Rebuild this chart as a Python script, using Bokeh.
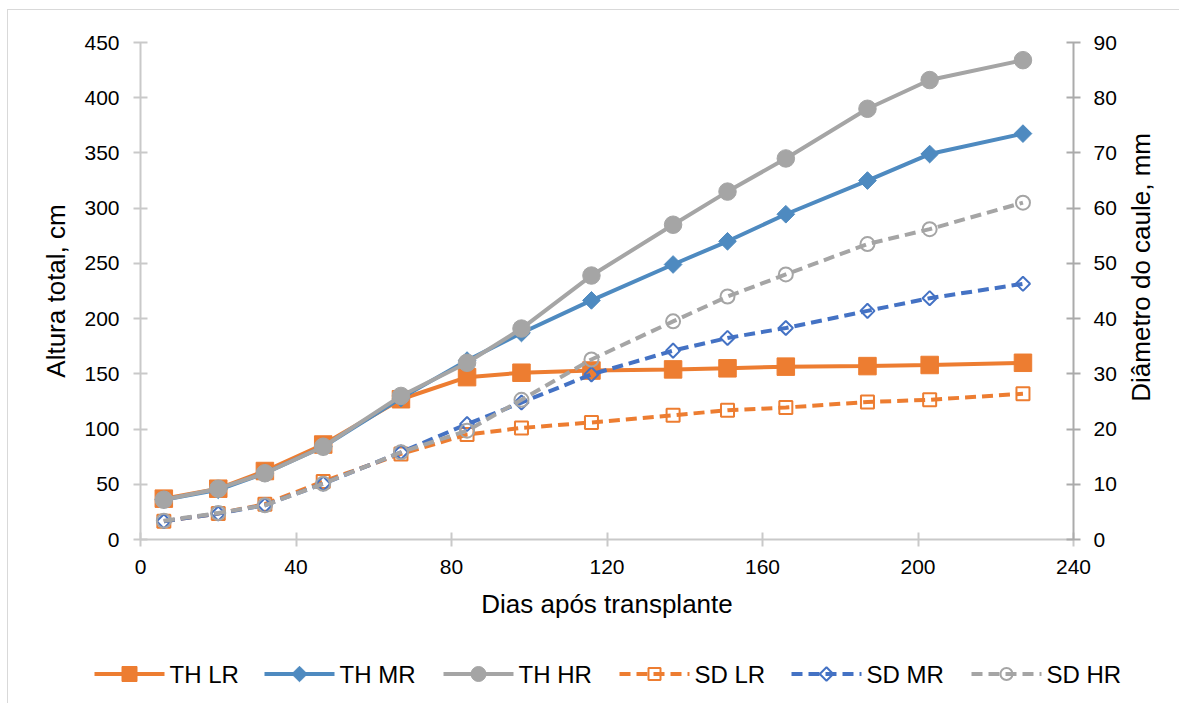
import math

from bokeh.core.properties import value
from bokeh.embed import file_html
from bokeh.layouts import column, row
from bokeh.models import FixedTicker, LinearAxis, Range1d
from bokeh.plotting import figure
from bokeh.resources import INLINE

# Days after transplanting
days = [6, 20, 32, 47, 67, 84, 98, 116, 137, 151, 166, 187, 203, 227]

# Total height (cm), left axis
th_lr = [37, 46, 62, 86, 127, 147, 151, 153, 154, 155, 156.5, 157, 158, 160]
th_mr = [36, 45, 60, 84, 128, 162, 187, 216.5, 249, 270, 294.5, 325, 349, 367.5]
th_hr = [36, 46, 60, 84, 130, 160, 191, 239, 285, 315, 345, 390, 416, 434]

# Stem diameter (mm), right axis
sd_lr = [3.3, 4.7, 6.4, 10.5, 15.5, 19.0, 20.2, 21.2, 22.5, 23.4, 23.9, 24.9, 25.3, 26.4]
sd_mr = [3.3, 4.7, 6.2, 10.1, 15.8, 20.9, 24.8, 29.9, 34.2, 36.5, 38.3, 41.4, 43.7, 46.3]
sd_hr = [3.4, 4.8, 6.2, 10.1, 15.8, 19.7, 25.3, 32.6, 39.5, 44.0, 48.0, 53.5, 56.2, 61.0]

x_ticks = [0, 40, 80, 120, 160, 200, 240]
left_ticks = [0, 50, 100, 150, 200, 250, 300, 350, 400, 450]
right_ticks = [0, 10, 20, 30, 40, 50, 60, 70, 80, 90]

FONT = "Liberation Sans"
ORANGE = "#ED7D31"
STEEL = "#4E8AC0"
BLUE = "#4472C4"
GRAY = "#A5A5A5"

LW = 4
DASH = "11 6"

# label, values, color, dashed, marker, angle, size, legend size, filled, y range
series = [
    ("TH LR", th_lr, ORANGE, False, "square", 0.0, 17.5, 15, True, "default"),
    ("TH MR", th_mr, STEEL, False, "square", math.pi / 4, 12.5, 11, True, "default"),
    ("TH HR", th_hr, GRAY, False, "circle", 0.0, 17.5, 15, True, "default"),
    ("SD LR", sd_lr, ORANGE, True, "square", 0.0, 13, 12, False, "sd"),
    ("SD MR", sd_mr, BLUE, True, "square", math.pi / 4, 10, 9.5, False, "sd"),
    ("SD HR", sd_hr, GRAY, True, "circle", 0.0, 14, 12, False, "sd"),
]

# Page layout (pixels)
TOTAL_W = 1171        # inner width of the bordered box
MAIN_H = 620          # height of the chart strip
LEG_H = 73            # height of the legend strip
MAIN_W = 1115         # chart figure width; the rest holds the right-hand title
TITLE_W = TOTAL_W - MAIN_W
FRAME_L, FRAME_R, FRAME_T, FRAME_B = 132, 1065, 32, 529

p = figure(
    width=MAIN_W, height=MAIN_H,
    x_range=Range1d(0, 240), y_range=Range1d(0, 450),
    output_backend="svg", toolbar_location=None,
    min_border_left=FRAME_L, min_border_right=MAIN_W - FRAME_R,
    min_border_top=FRAME_T, min_border_bottom=MAIN_H - FRAME_B,
)
p.outline_line_color = None
p.xgrid.visible = False
p.ygrid.visible = False
p.background_fill_color = "white"
p.border_fill_color = "white"
p.extra_y_ranges = {"sd": Range1d(0, 90)}


def style_axis(ax, color):
    ax.axis_line_color = color
    ax.axis_line_width = 2
    ax.major_tick_line_color = color
    ax.major_tick_line_width = 2
    ax.major_tick_in = 7
    ax.major_tick_out = 7
    ax.minor_tick_line_color = None
    ax.major_label_text_font = FONT
    ax.major_label_text_font_size = "21px"
    ax.major_label_text_color = "black"
    ax.axis_label_text_font = FONT
    ax.axis_label_text_font_size = "26px"
    ax.axis_label_text_font_style = "normal"
    ax.axis_label_text_color = "black"


xax = p.xaxis[0]
xax.ticker = FixedTicker(ticks=x_ticks)
xax.axis_label = "Dias após transplante"
style_axis(xax, "#C9C9C9")
xax.major_label_standoff = 13
xax.axis_label_standoff = 12

yax = p.yaxis[0]
yax.ticker = FixedTicker(ticks=left_ticks)
yax.axis_label = "Altura total, cm"
style_axis(yax, "#C9C9C9")
yax.major_label_standoff = 14
yax.axis_label_standoff = 10

rax = LinearAxis(y_range_name="sd", ticker=FixedTicker(ticks=right_ticks))
style_axis(rax, "#ABABAB")
rax.major_label_standoff = 13
p.add_layout(rax, "right")

for label, vals, color, dashed, marker, angle, size, lsize, filled, rng in series:
    p.line(days, vals, line_color=color, line_width=LW,
           line_dash=DASH if dashed else "solid", y_range_name=rng)
    p.scatter(days, vals, marker=marker, angle=angle, size=size,
              fill_color=color if filled else None, line_color=color,
              line_width=1 if filled else 2, y_range_name=rng)


def blank_strip(w, h):
    f = figure(width=w, height=h, x_range=Range1d(0, w), y_range=Range1d(0, h),
               output_backend="svg", toolbar_location=None,
               x_axis_location=None, y_axis_location=None,
               min_border=0, min_border_left=0, min_border_right=0,
               min_border_top=0, min_border_bottom=0)
    f.xgrid.visible = False
    f.ygrid.visible = False
    f.outline_line_color = None
    f.background_fill_color = "white"
    f.border_fill_color = "white"
    return f


# Right-hand axis title, reading bottom to top
rt = blank_strip(TITLE_W, MAIN_H)
rt.text(x=[17], y=[MAIN_H - (FRAME_T + FRAME_B) / 2], text=["Diâmetro do caule, mm"],
        angle=math.pi / 2, text_align="center", text_baseline="middle",
        text_font=value(FONT), text_font_size="26px", text_color="black")

# Legend strip
leg = blank_strip(TOTAL_W, LEG_H)
LEG_X = [86, 256, 435, 611, 783, 963]   # left edge of each legend entry
LEG_Y = 29.5
SAMPLE_W = 70
for (label, vals, color, dashed, marker, angle, size, lsize, filled, rng), x0 in zip(series, LEG_X):
    leg.line([x0, x0 + SAMPLE_W], [LEG_Y, LEG_Y], line_color=color, line_width=LW,
             line_dash=DASH if dashed else "solid")
    leg.scatter([x0 + SAMPLE_W / 2], [LEG_Y], marker=marker, angle=angle, size=lsize,
                fill_color=color if filled else None, line_color=color,
                line_width=1 if filled else 2)
    leg.text(x=[x0 + SAMPLE_W + 5], y=[LEG_Y], text=[label], text_align="left",
             text_baseline="middle", text_font=value(FONT), text_font_size="24px",
             text_color="black")

layout = column(row(p, rt, spacing=0), leg, spacing=0)
layout.margin = (9, 0, 0, 7)
layout.styles = {"border-left": "1px solid #d9d9d9", "border-top": "1px solid #d9d9d9"}

open("out.html", "w").write(file_html(layout, INLINE))
